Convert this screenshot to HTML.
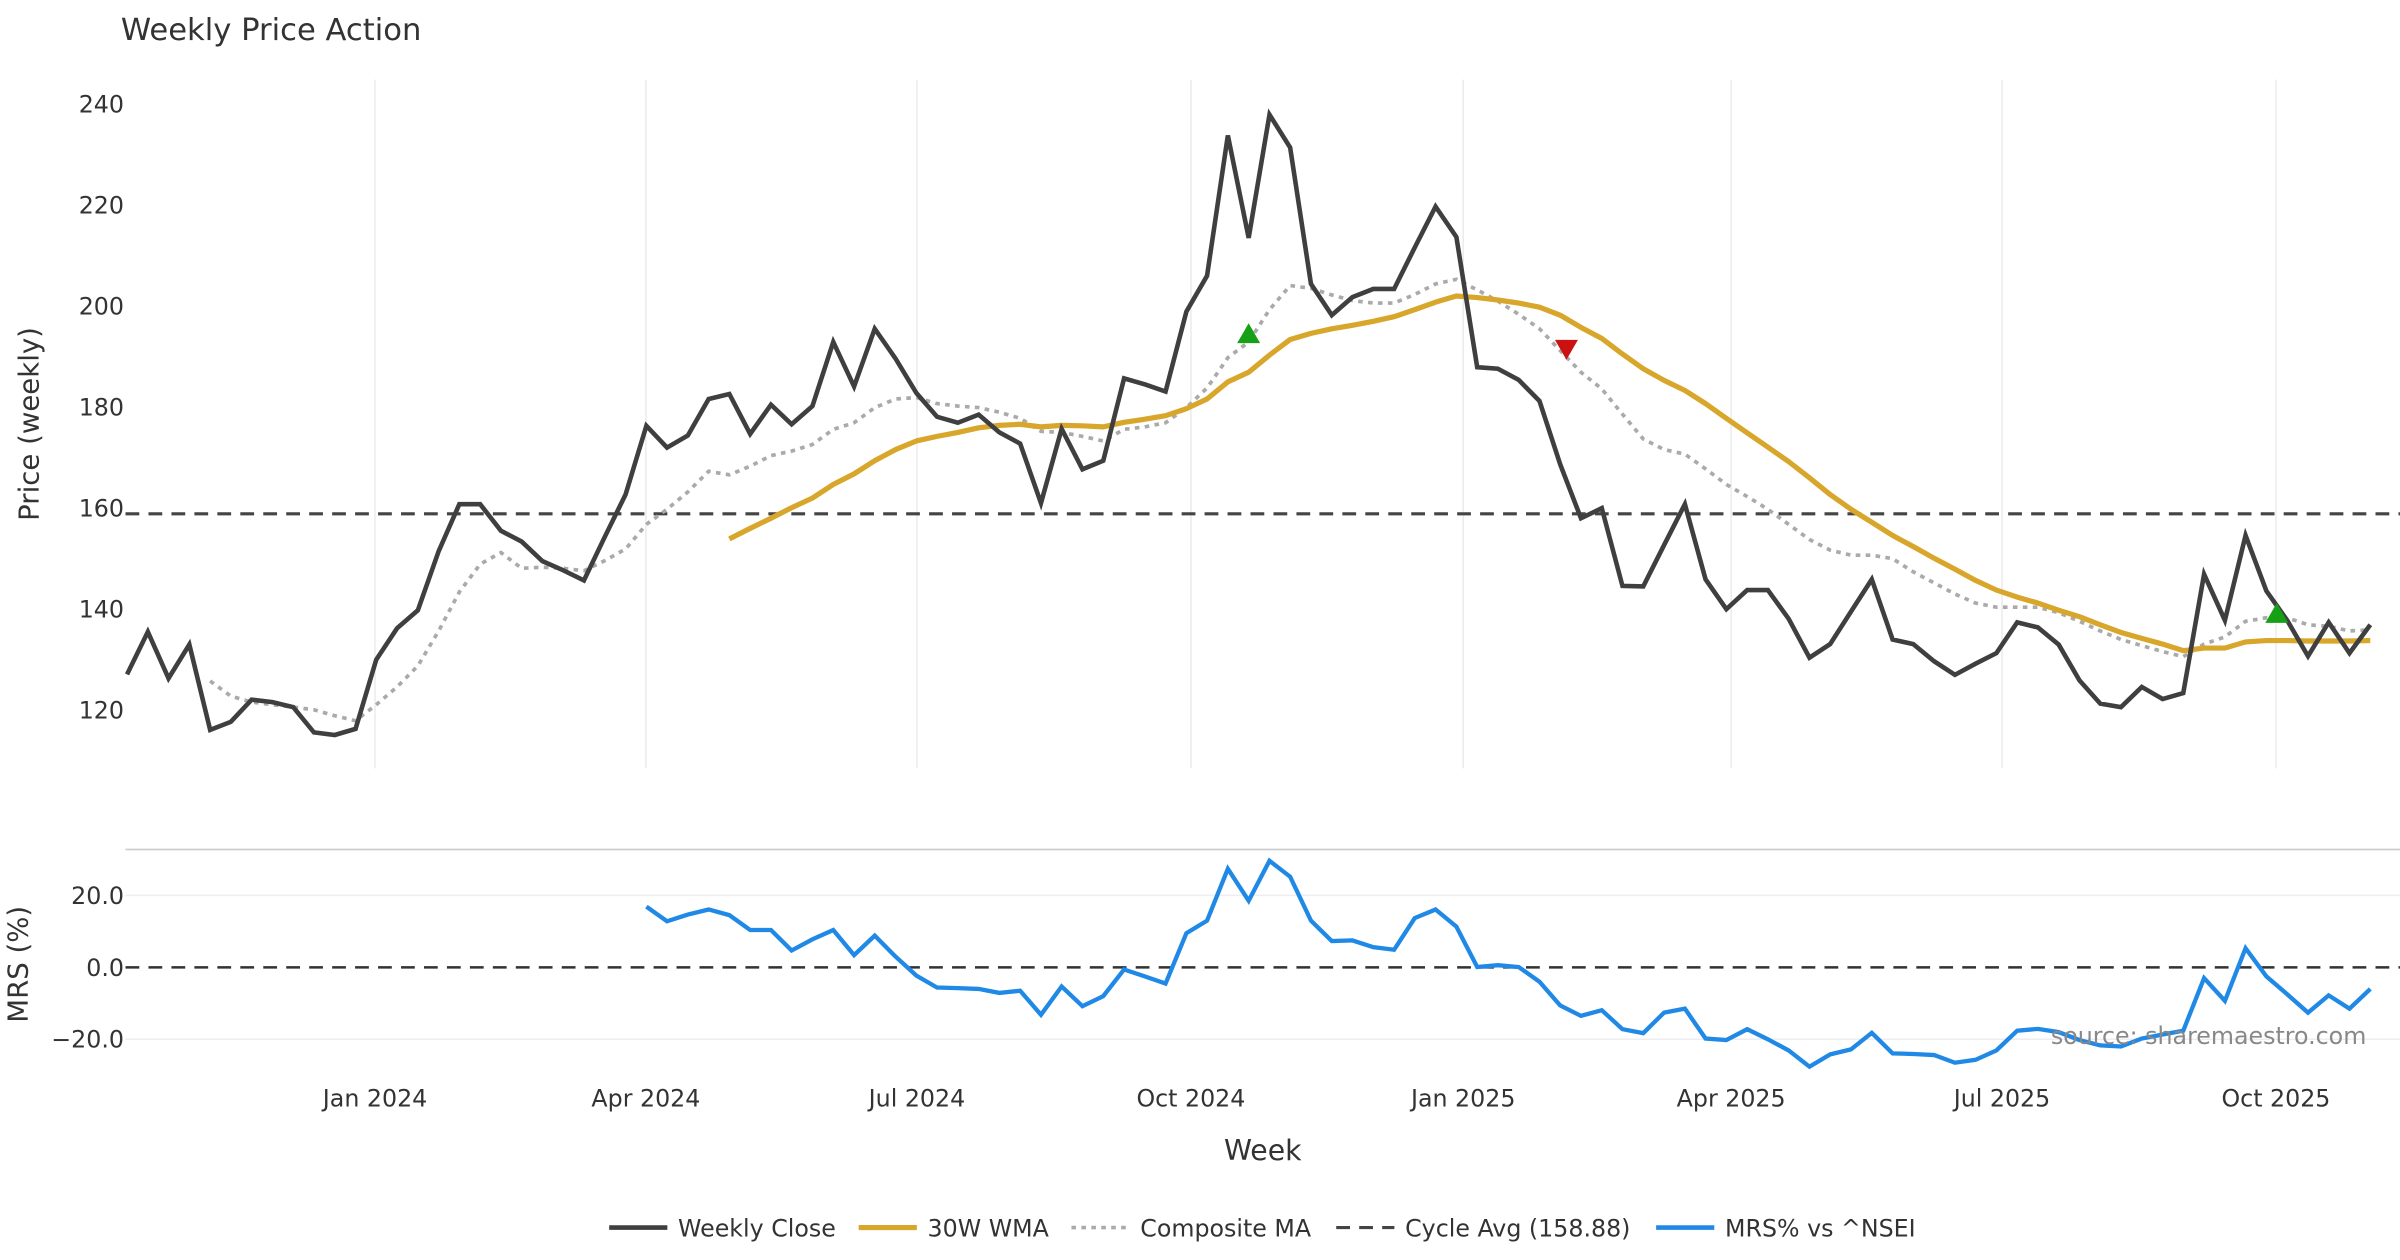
<!DOCTYPE html>
<html><head><meta charset="utf-8"><style>
html,body{margin:0;padding:0;background:#fff;}
svg{display:block;font-family:"DejaVu Sans","Liberation Sans",sans-serif;}
</style></head><body>
<svg id="chart" width="2400" height="1260" viewBox="0 0 1568 823.2" xmlns="http://www.w3.org/2000/svg">
<text x="79" y="26" font-size="20" fill="#333">Weekly Price Action</text>
<g id="grid"></g>
<g id="axes"></g>
<g id="series"></g>
<g id="legend"></g>
<text x="1546" y="682" font-size="15.5" fill="#888" text-anchor="end">source: sharemaestro.com</text>
</svg>
<script>
const closeVals=[127.1,135.5,126.3,133.0,116.1,117.7,122.1,121.6,120.6,115.6,115.1,116.3,130.0,136.2,139.8,151.5,160.8,160.8,155.5,153.4,149.5,147.7,145.7,154.3,162.7,176.3,172.0,174.4,181.6,182.6,174.7,180.5,176.6,180.2,192.9,184.1,195.5,189.6,182.8,178.1,176.9,178.5,175.0,172.8,161.0,175.7,167.7,169.4,185.7,184.5,183.1,198.9,206.0,233.8,213.5,237.9,231.4,204.4,198.2,201.8,203.4,203.4,211.6,219.7,213.7,187.9,187.6,185.4,181.2,168.7,158.0,160.0,144.6,144.5,152.7,160.8,145.9,140.0,143.8,143.8,138.1,130.4,133.1,139.5,145.9,134.0,133.1,129.7,127.0,129.2,131.3,137.4,136.4,133.0,125.9,121.3,120.6,124.6,122.2,123.4,146.9,137.8,154.6,143.6,137.8,130.7,137.4,131.3,136.9];
const wmaStart=29;
const wmaVals=[153.9,156.0,158.0,160.1,162.0,164.7,166.8,169.4,171.6,173.3,174.2,175.0,175.9,176.4,176.6,176.1,176.4,176.3,176.1,177.0,177.6,178.3,179.7,181.6,185.0,186.9,190.3,193.4,194.6,195.5,196.2,197.0,197.9,199.3,200.8,202.0,201.7,201.2,200.6,199.8,198.2,195.8,193.6,190.5,187.6,185.3,183.3,180.7,177.8,174.9,172.1,169.2,166.0,162.7,159.8,157.2,154.6,152.4,150.1,147.9,145.7,143.8,142.4,141.2,139.8,138.5,136.9,135.4,134.2,133.1,131.8,132.3,132.3,133.5,133.8,133.8,133.7,133.7,133.7,133.8];
const compStart=4;
const compVals=[125.8,122.8,121.6,121.1,120.6,120.1,118.9,117.9,121.1,124.6,128.8,135.7,143.4,148.9,151.2,148.1,148.3,148.1,147.6,149.6,151.9,156.8,159.8,163.2,167.3,166.6,168.3,170.4,171.3,172.6,175.6,176.9,179.9,181.6,181.9,180.7,180.2,179.9,179.0,177.8,175.2,175.0,174.2,173.3,175.6,176.1,176.9,179.9,183.8,189.8,192.9,199.3,204.1,203.5,202.2,201.1,200.6,200.6,202.3,204.4,205.3,203.2,201.0,198.4,195.5,191.2,186.9,183.6,178.6,173.7,171.6,170.7,167.8,164.7,162.3,159.8,156.8,153.8,151.7,150.7,150.7,150.0,147.4,145.2,143.0,141.2,140.4,140.4,140.4,139.3,137.6,135.7,134.0,132.8,131.6,130.6,133.1,134.5,137.6,138.3,138.3,136.9,136.6,135.7,135.9];
const mrsStart=25;
const mrsVals=[16.9,12.8,14.7,16.1,14.5,10.4,10.4,4.7,7.8,10.4,3.4,8.8,3.0,-2.3,-5.6,-5.8,-6.0,-7.1,-6.5,-13.2,-5.3,-10.8,-8.0,-0.6,-2.5,-4.5,9.5,13.0,27.4,18.5,29.6,25.2,13.0,7.3,7.5,5.6,4.9,13.7,16.1,11.3,0.1,0.6,0.1,-4.0,-10.6,-13.5,-11.9,-17.2,-18.3,-12.6,-11.5,-19.8,-20.2,-17.2,-20.0,-23.1,-27.6,-24.2,-22.8,-18.2,-23.9,-24.1,-24.4,-26.5,-25.7,-23.1,-17.6,-17.1,-18.0,-20.2,-21.7,-22.0,-19.8,-18.7,-17.6,-3.0,-9.3,5.3,-2.5,-7.5,-12.6,-7.8,-11.5,-6.0];
const cycleAvg=158.88;
const buyIdx=[54,103.5];
const buyVals=[194.5,139.1];
const sellIdx=[69.3];
const sellVals=[191.5];
const priceTicks=[120,140,160,180,200,220,240];
const mrsTicks=[-20,0,20];
const mrsTickLabels=["\u221220.0","0.0","20.0"];
const dateTickIdx=[11.94,24.98,38.03,51.22,64.33,77.23,90.27,103.46];
const dateTickLabels=["Jan 2024","Apr 2024","Jul 2024","Oct 2024","Jan 2025","Apr 2025","Jul 2025","Oct 2025"];

const NS="http://www.w3.org/2000/svg";
const X=i=>83+13.57*i;
const Y=p=>68+(240-p)*3.3;
const YM=v=>632-v*2.35;
function mk(tag,attrs,parent){const e=document.createElementNS(NS,tag);for(const k in attrs)e.setAttribute(k,attrs[k]);parent.appendChild(e);return e;}
const grid=document.getElementById('grid'),axes=document.getElementById('axes'),ser=document.getElementById('series'),leg=document.getElementById('legend');

dateTickIdx.forEach((d,k)=>{
  const g1=mk('line',{x1:X(d),x2:X(d),y1:52,y2:502,stroke:'#ececec','stroke-width':1},grid);
  
  
  const t=mk('text',{x:X(d),y:723,'font-size':15.5,fill:'#333','text-anchor':'middle'},axes);
  t.textContent=dateTickLabels[k];
  
  
});
priceTicks.forEach(p=>{
  const t=mk('text',{x:81,y:Y(p)+5.5,'font-size':15.5,fill:'#333','text-anchor':'end'},axes);
  t.textContent=p;
  
  
});
mrsTicks.forEach((v,k)=>{
  if(v!==0){const gl=mk('line',{x1:82,x2:1568,y1:YM(v),y2:YM(v),stroke:'#eeeef2','stroke-width':1},grid);
  
  }
  const t=mk('text',{x:81,y:YM(v)+5.5,'font-size':15.5,fill:'#333','text-anchor':'end'},axes);
  t.textContent=mrsTickLabels[k];
  
  
});
let sep=mk('line',{x1:82,x2:1568,y1:555,y2:555,stroke:'#ccc','stroke-width':1.2},axes);


let yt=mk('text',{x:0,y:0,'font-size':18,fill:'#333','text-anchor':'middle',transform:'translate(25,277) rotate(-90)'},axes);
yt.textContent='Price (weekly)';


let ym=mk('text',{x:0,y:0,'font-size':18,fill:'#333','text-anchor':'middle',transform:'translate(18,630) rotate(-90)'},axes);
ym.textContent='MRS (%)';


let xt=mk('text',{x:825,y:758,'font-size':18.5,fill:'#333','text-anchor':'middle'},axes);
xt.textContent='Week';



let ca=mk('line',{x1:82,x2:1568,y1:Y(cycleAvg),y2:Y(cycleAvg),stroke:'#444','stroke-width':2,'stroke-dasharray':'9,6'},ser);


let z0=mk('line',{x1:82,x2:1568,y1:YM(0),y2:YM(0),stroke:'#333','stroke-width':1.6,'stroke-dasharray':'9,6'},ser);



function pts(vals,start,fy){return vals.map((v,k)=>X(start+k).toFixed(1)+','+fy(v).toFixed(1)).join(' ');}
let cm=mk('polyline',{points:pts(compVals,compStart,Y),fill:'none',stroke:'#aaa','stroke-width':2.4,'stroke-dasharray':'3,3.5'},ser);


let wm=mk('polyline',{points:pts(wmaVals,wmaStart,Y),fill:'none',stroke:'#d8a62a','stroke-width':3.4,'stroke-linejoin':'round'},ser);


let cl=mk('polyline',{points:pts(closeVals,0,Y),fill:'none',stroke:'#3f3f3f','stroke-width':3,'stroke-linejoin':'miter'},ser);


let mr=mk('polyline',{points:pts(mrsVals,mrsStart,YM),fill:'none',stroke:'#2089e6','stroke-width':2.8},ser);



buyIdx.forEach((d,k)=>{const x=X(d),y=Y(buyVals[k]);
  const m=mk('polygon',{points:`${x-7.5},${y+6} ${x+7.5},${y+6} ${x},${y-7}`,fill:'#15a015'},ser);
  
  });
sellIdx.forEach((d,k)=>{const x=X(d),y=Y(sellVals[k]);
  const m=mk('polygon',{points:`${x-7.5},${y-6} ${x+7.5},${y-6} ${x},${y+7}`,fill:'#cc1111'},ser);
  
  });

const legItems=[
 {x:398,label:'Weekly Close',stroke:'#3f3f3f',w:3,dash:'',name:'legend-weekly-close'},
 {x:561,label:'30W WMA',stroke:'#d8a62a',w:3.4,dash:'',name:'legend-wma'},
 {x:700,label:'Composite MA',stroke:'#aaa',w:2.4,dash:'3,3.5',name:'legend-composite-ma'},
 {x:873,label:'Cycle Avg (158.88)',stroke:'#444',w:2,dash:'9,6',name:'legend-cycle-avg'},
 {x:1082,label:'MRS% vs ^NSEI',stroke:'#2089e6',w:3,dash:'',name:'legend-mrs'}];
legItems.forEach(it=>{
  const g=mk('g',{},leg);
  
  
  const a={x1:it.x,x2:it.x+38,y1:802,y2:802,stroke:it.stroke,'stroke-width':it.w};
  if(it.dash)a['stroke-dasharray']=it.dash;
  mk('line',a,g);
  const t=mk('text',{x:it.x+45,y:808,'font-size':15.5,fill:'#333'},g);
  t.textContent=it.label;
});
</script>
</body></html>
